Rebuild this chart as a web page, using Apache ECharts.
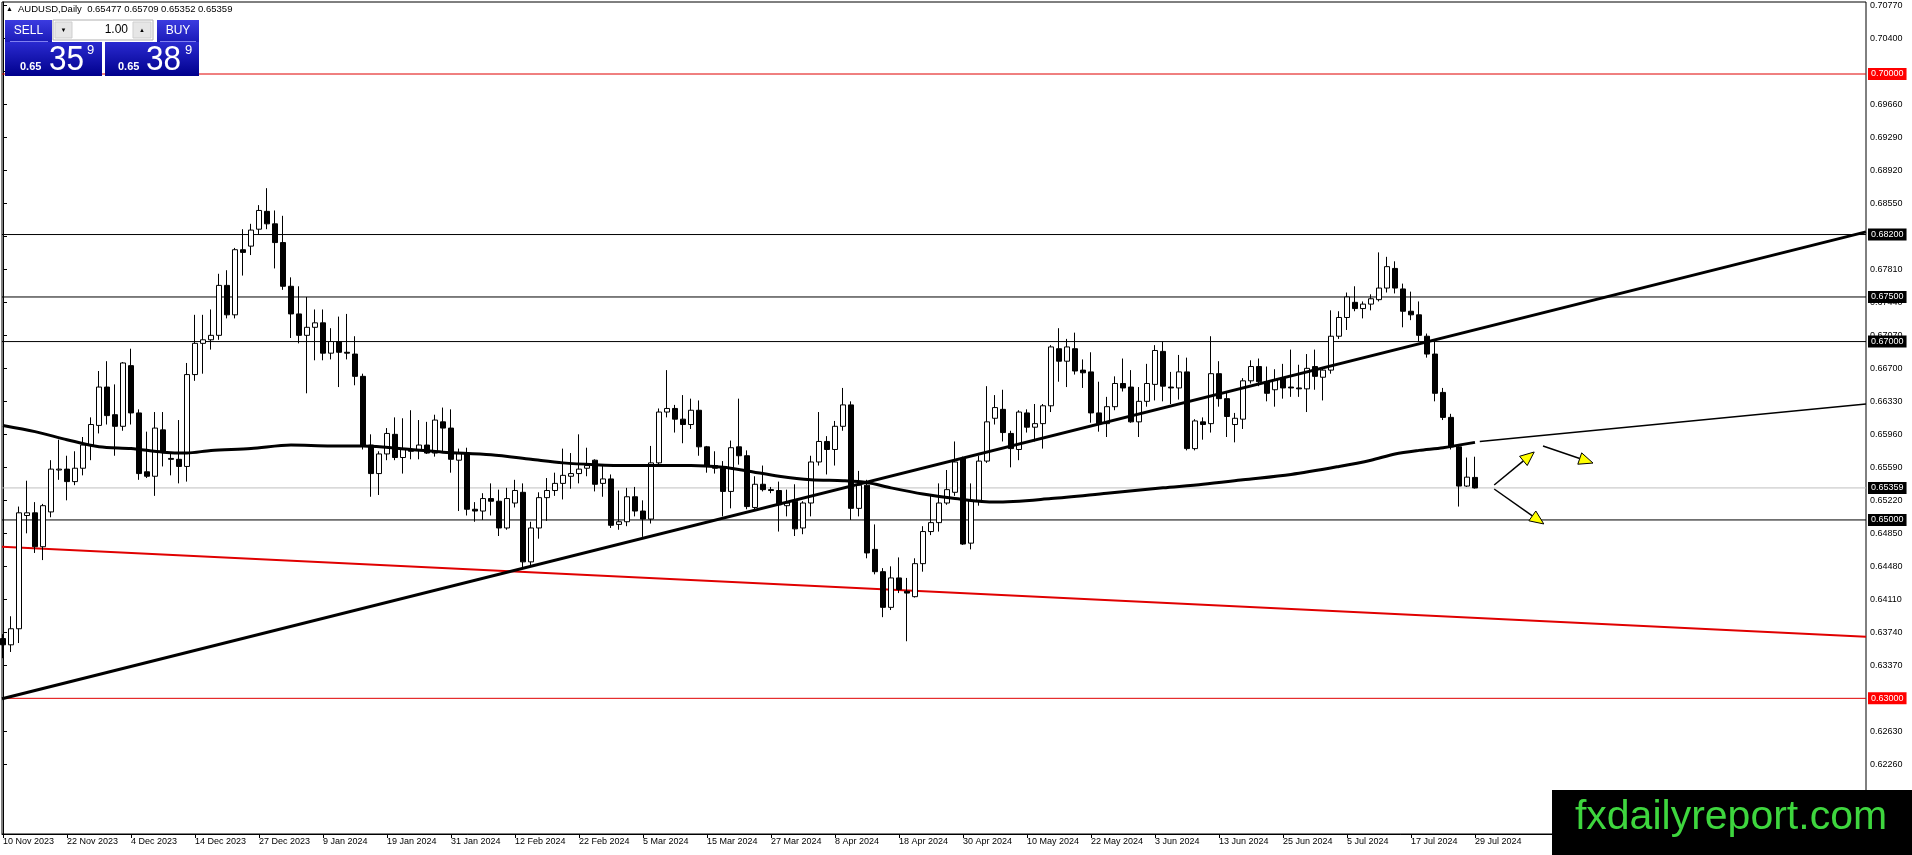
<!DOCTYPE html>
<html><head><meta charset="utf-8">
<script src="https://cdn.jsdelivr.net/npm/echarts@6/dist/echarts.min.js"></script>
<style>html,body{margin:0;padding:0;background:#fff;}#c{width:1912px;height:855px;}</style>
</head><body><div id="c"></div>
<script>
// ---- x-axis date labels (every 8 bars) ----
const dateLabels = ['10 Nov 2023','22 Nov 2023','4 Dec 2023','14 Dec 2023','27 Dec 2023','9 Jan 2024','19 Jan 2024','31 Jan 2024','12 Feb 2024','22 Feb 2024','5 Mar 2024','15 Mar 2024','27 Mar 2024','8 Apr 2024','18 Apr 2024','30 Apr 2024','10 May 2024','22 May 2024','3 Jun 2024','13 Jun 2024','25 Jun 2024','5 Jul 2024','17 Jul 2024','29 Jul 2024'];
const labelBars = [0,8,16,24,32,40,48,56,64,72,80,88,96,104,112,120,128,136,144,152,160,168,176,184];

// ---- price axis tick labels ----
const priceTicks = [0.70770,0.70400,0.70030,0.69660,0.69290,0.68920,0.68550,0.68180,0.67810,0.67440,0.67070,0.66700,0.66330,0.65960,0.65590,0.65220,0.64850,0.64480,0.64110,0.63740,0.63370,0.63000,0.62630,0.62260];

// ---- daily candles AUDUSD ----
const opens = [
.6367,.6360,.6378,.6505,.6508,.6470,.6509,.6556,.6557,.6543,
.6558,.6584,.6606,.6649,.6618,.6605,.6673,.6620,.6554,.6549,
.6601,.6569,.6568,.6560,.6663,.6698,.6702,.6707,.6763,.6730,
.6803,.6807,.6826,.6846,.6832,.6811,.6762,.6731,.6707,.6716,
.6721,.6687,.6700,.6688,.6686,.6661,.6584,.6552,.6574,.6596,
.6570,.6579,.6578,.6584,.6575,.6610,.6603,.6567,.6575,.6512,
.6510,.6524,.6521,.6491,.6519,.6531,.6453,.6491,.6525,.6533,
.6541,.6549,.6552,.6558,.6567,.6541,.6546,.6495,.6498,.6526,
.6510,.6501,.6564,.6621,.6625,.6613,.6607,.6623,.6582,.6561,
.6558,.6532,.6582,.6572,.6514,.6540,.6534,.6533,.6516,.6521,
.6491,.6519,.6565,.6588,.6579,.6605,.6629,.6513,.6539,.6467,
.6442,.6402,.6435,.6420,.6414,.6451,.6487,.6497,.6519,.6531,
.6569,.6474,.6522,.6566,.6614,.6624,.6597,.6579,.6620,.6604,
.6608,.6628,.6692,.6678,.6692,.6668,.6666,.6620,.6608,.6627,
.6653,.6649,.6610,.6633,.6652,.6689,.6649,.6648,.6666,.6580,
.6610,.6608,.6664,.6636,.6607,.6613,.6656,.6672,.6655,.6646,
.6659,.6649,.6648,.6647,.6672,.6660,.6668,.6706,.6727,.6744,
.6737,.6742,.6747,.6760,.6782,.6759,.6734,.6730,.6706,.6686,
.6643,.6615,.6582,.6538,.65477];
const closes = [
.6360,.6378,.6508,.6508,.6470,.6516,.6557,.6557,.6543,.6558,
.6584,.6607,.6649,.6617,.6605,.6676,.6620,.6552,.6549,.6603,
.6577,.6568,.6560,.6663,.6698,.6702,.6707,.6763,.6730,.6803,
.6800,.6825,.6847,.6832,.6811,.6762,.6731,.6707,.6716,.6721,
.6687,.6700,.6688,.6687,.6661,.6583,.6552,.6574,.6597,.6570,
.6579,.6577,.6584,.6575,.6612,.6603,.6568,.6575,.6512,.6510,
.6524,.6521,.6491,.6524,.6533,.6453,.6491,.6525,.6533,.6541,
.6550,.6552,.6557,.6561,.6540,.6546,.6494,.6498,.6526,.6510,
.6501,.6564,.6621,.6625,.6613,.6607,.6623,.6582,.6560,.6558,
.6532,.6581,.6572,.6515,.6540,.6534,.6533,.6517,.6519,.6490,
.6519,.6565,.6588,.6579,.6605,.6629,.6513,.6539,.6463,.6442,
.6402,.6435,.6422,.6418,.6451,.6487,.6497,.6519,.6534,.6565,
.6473,.6522,.6566,.6610,.6626,.6598,.6580,.6621,.6604,.6608,
.6628,.6694,.6678,.6694,.6667,.6665,.6620,.6608,.6627,.6653,
.6648,.6610,.6633,.6653,.6690,.6650,.6648,.6666,.6580,.6611,
.6607,.6664,.6636,.6616,.6614,.6656,.6672,.6655,.6642,.6657,
.6648,.6648,.6647,.6670,.6661,.6668,.6706,.6727,.6750,.6737,
.6742,.6748,.6760,.6784,.6760,.6734,.6730,.6707,.6686,.6642,
.6615,.6582,.6538,.6548,.65359];
const lows = [
.6345,.6352,.6362,.6485,.6463,.6455,.6503,.6545,.6522,.6539,
.6550,.6567,.6597,.6607,.6572,.6600,.6607,.6545,.6547,.6527,
.6560,.6550,.6541,.6543,.6656,.6664,.6691,.6702,.6726,.6726,
.6774,.6797,.6820,.6826,.6782,.6758,.6704,.6698,.6642,.6679,
.6679,.6680,.6649,.6680,.6651,.6579,.6526,.6528,.6567,.6567,
.6552,.6568,.6568,.6574,.6571,.6575,.6553,.6510,.6505,.6498,
.6500,.6505,.6482,.6489,.6514,.6446,.6448,.6479,.6499,.6527,
.6523,.6535,.6541,.6549,.6532,.6526,.6491,.6489,.6493,.6504,
.6481,.6496,.6562,.6615,.6598,.6586,.6602,.6572,.6553,.6552,
.6504,.6513,.6562,.6512,.6511,.6532,.6530,.6487,.6504,.6482,
.6484,.6504,.6561,.6551,.6561,.6600,.6500,.6504,.6457,.6439,
.6391,.6399,.6418,.6364,.6413,.6442,.6483,.6487,.6517,.6527,
.6472,.6467,.6516,.6564,.6607,.6588,.6559,.6567,.6598,.6588,
.6580,.6621,.6655,.6649,.6663,.6648,.6609,.6599,.6593,.6623,
.6644,.6609,.6593,.6627,.6634,.6633,.6630,.6635,.6578,.6578,
.6590,.6598,.6627,.6593,.6587,.6602,.6653,.6650,.6633,.6627,
.6636,.6638,.6638,.6621,.6646,.6634,.6664,.6703,.6713,.6734,
.6726,.6735,.6745,.6755,.6754,.6716,.6724,.6700,.6682,.6633,
.6612,.6579,.6515,.6537,.65352];
const highs = [
.6372,.6392,.6515,.6544,.6520,.6518,.6567,.6590,.6572,.6577,
.6593,.6615,.6667,.6678,.6652,.6677,.6692,.6624,.6599,.6621,
.6621,.6575,.6612,.6676,.6730,.6730,.6736,.6776,.6780,.6805,
.6826,.6832,.6853,.6872,.6847,.6841,.6772,.6762,.6750,.6736,
.6736,.6715,.6728,.6731,.6706,.6664,.6596,.6577,.6603,.6615,
.6614,.6623,.6612,.6610,.6618,.6626,.6624,.6580,.6581,.6520,
.6530,.6541,.6534,.6536,.6545,.6541,.6498,.6531,.6547,.6553,
.6580,.6575,.6596,.6581,.6568,.6562,.6551,.6533,.6536,.6537,
.6522,.6583,.6625,.6668,.6629,.6640,.6636,.6634,.6583,.6577,
.6566,.6589,.6636,.6578,.6549,.6561,.6537,.6543,.6534,.6540,
.6521,.6572,.6621,.6594,.6611,.6648,.6633,.6555,.6545,.6495,
.6446,.6448,.6458,.6435,.6457,.6493,.6527,.6541,.6556,.6588,
.6571,.6541,.6572,.6650,.6640,.6646,.6600,.6623,.6624,.6630,
.6630,.6696,.6715,.6703,.6710,.6680,.6688,.6655,.6638,.6661,
.6681,.6668,.6649,.6675,.6696,.6700,.6666,.6685,.6682,.6613,
.6615,.6706,.6678,.6644,.6620,.6659,.6679,.6681,.6672,.6669,
.6675,.6691,.6674,.6686,.6691,.6671,.6735,.6734,.6755,.6762,
.6745,.6753,.6800,.6795,.6790,.6765,.6756,.6745,.6709,.6700,
.6648,.6619,.6584,.6570,.65709];

// ---- moving average readings [bar, price] ----
const maPoints = [[0,0.6606],[4,0.6599],[8,0.6590],[12,0.6582],[16,0.6580],[20,0.6576],[23,0.6575],[26,0.6578],[31,0.6580],[36,0.6584],[41,0.6583],[45,0.6583],[51,0.6579],[55,0.6576],[61,0.6573],[66,0.6568],[70,0.6564],[74,0.6562],[78,0.6561],[82,0.6561],[86,0.6561],[90,0.6559],[93,0.6555],[97,0.6549],[101,0.6545],[105,0.6544],[108,0.6542],[111,0.6536],[115,0.6529],[119,0.6524],[124,0.6520],[131,0.6524],[138,0.6530],[145,0.6536],[150,0.6540],[155,0.6545],[161,0.6551],[167,0.6560],[171,0.6567],[174,0.6574],[177,0.6578],[180,0.6581],[184,0.6587]];

// ---- drawn objects ----
const blackLevels = [0.68200, 0.67500, 0.67000, 0.65000];
const redLevels = [0.70000, 0.63000];
const lastPrice = 0.65359;
const trendBlack = [[-0.125,0.62996],[232.875,0.6823]];
const trendRed = [[-0.125,0.6470],[232.875,0.6369]];
const trendThin = [[184.6,0.6588],[232.875,0.6630]];
const arrowSegs = [
  [[186.4,0.65392],[191.4,0.65762]],
  [[192.5,0.65829],[198.75,0.65638]],
  [[186.4,0.65347],[192.6,0.64955]]
];
const X_MIN = -0.125, X_MAX = 232.875;

const FONT = '"Liberation Sans", Arial, sans-serif';
const chart = echarts.init(document.getElementById('c'));

const candleData = opens.map((o,i)=>[i,o,closes[i],lows[i],highs[i]]);

function levelSeries(v, lineColor, boxColor, z){
  return {type:'line', data:[[X_MIN, v],[X_MAX, v]], showSymbol:false, silent:true, clip:false, z:z,
    lineStyle:{color:lineColor, width:1},
    endLabel:{show:true, distance:2, formatter:()=>v.toFixed(5), color:'#fff', backgroundColor:boxColor,
      padding:[2,3,1,3], fontSize:9, fontFamily:FONT}};
}

const series = [];
series.push(levelSeries(lastPrice,'#c0c0c0','#000',1));
blackLevels.forEach(v=>series.push(levelSeries(v,'#000','#000',1)));
redLevels.forEach(v=>series.push(levelSeries(v,'#e00000','#ff0000',1)));
series.push({type:'line', data:trendRed, showSymbol:false, silent:true, z:2, lineStyle:{color:'#e00000', width:2}});
series.push({type:'candlestick', data:candleData, encode:{x:0, y:[1,2,3,4]}, barWidth:5, z:3,
  itemStyle:{color:'#fff', color0:'#000', borderColor:'#000', borderColor0:'#000', borderColorDoji:'#000', borderWidth:1}});
series.push({type:'line', data:maPoints, showSymbol:false, silent:true, smooth:0.3, z:4, lineStyle:{color:'#000', width:3}});
series.push({type:'line', data:trendBlack, showSymbol:false, silent:true, z:4, lineStyle:{color:'#000', width:3}});
series.push({type:'line', data:trendThin, showSymbol:false, silent:true, z:4, lineStyle:{color:'#000', width:1.5}});

chart.setOption({
  animation:false,
  backgroundColor:'#fff',
  grid:{left:2, right:46, top:2, bottom:21, show:true, borderColor:'#000', borderWidth:1, backgroundColor:'transparent'},
  xAxis:{type:'value', min:X_MIN, max:X_MAX,
    axisLine:{show:true, lineStyle:{color:'#000'}},
    axisTick:{show:true, customValues:labelBars, length:4, lineStyle:{color:'#000'}},
    axisLabel:{customValues:labelBars, align:'left', margin:3, fontSize:9, fontFamily:FONT, color:'#000',
      formatter:(v)=>dateLabels[Math.round(v/8)]},
    splitLine:{show:false}},
  yAxis:{type:'value', position:'right', min:0.614789, max:0.708073, scale:true,
    axisLine:{show:true, lineStyle:{color:'#000'}},
    axisTick:{show:true, customValues:priceTicks, length:4, lineStyle:{color:'#000'}},
    axisLabel:{customValues:priceTicks, margin:4, fontSize:9, fontFamily:FONT, color:'#000',
      formatter:(v)=>v.toFixed(5)},
    splitLine:{show:false}},
  series:series
});

// ---- annotations / panel ----
const G = echarts.graphic;
const els = [];
arrowSegs.forEach(seg=>{
  const a = chart.convertToPixel({xAxisIndex:0, yAxisIndex:0}, seg[0]);
  const b = chart.convertToPixel({xAxisIndex:0, yAxisIndex:0}, seg[1]);
  const dx=b[0]-a[0], dy=b[1]-a[1], L=Math.hypot(dx,dy);
  const ux=dx/L, uy=dy/L, nx=-uy, ny=ux, HL=14, HW=6;
  const bx=b[0]-ux*HL, by=b[1]-uy*HL;
  els.push({type:'line', z:50, shape:{x1:a[0],y1:a[1],x2:bx,y2:by}, style:{stroke:'#000', lineWidth:1.5}});
  els.push({type:'polygon', z:51, shape:{points:[[b[0],b[1]],[bx+nx*HW,by+ny*HW],[bx-nx*HW,by-ny*HW]]}, style:{fill:'#ffff00', stroke:'#000', lineWidth:1}});
});
els.push({type:'text', z:60, style:{text:'▲', x:6, y:9, fontSize:7, fill:'#000', verticalAlign:'middle', fontFamily:FONT}});
els.push({type:'text', z:60, style:{text:'AUDUSD,Daily  0.65477 0.65709 0.65352 0.65359', x:18, y:9, fontSize:9.5, fill:'#000', verticalAlign:'middle', fontFamily:FONT}});
const grad1 = ()=>new G.LinearGradient(0,0,0,1,[{offset:0,color:'#3b3be0'},{offset:1,color:'#1a1ab8'}]);
const grad2 = ()=>new G.LinearGradient(0,0,0,1,[{offset:0,color:'#2a2ad0'},{offset:1,color:'#00008c'}]);
els.push({type:'rect', z:60, shape:{x:5,y:20,width:47,height:22}, style:{fill:grad1()}});
els.push({type:'rect', z:60, shape:{x:157,y:20,width:42,height:22}, style:{fill:grad1()}});
els.push({type:'rect', z:60, shape:{x:5,y:42,width:97,height:34}, style:{fill:grad2()}});
els.push({type:'rect', z:60, shape:{x:105,y:42,width:94,height:34}, style:{fill:grad2()}});
els.push({type:'line', z:61, shape:{x1:10,y1:41.5,x2:48,y2:41.5}, style:{stroke:'#8080f0', lineWidth:1}});
els.push({type:'line', z:61, shape:{x1:160,y1:41.5,x2:196,y2:41.5}, style:{stroke:'#8080f0', lineWidth:1}});
els.push({type:'rect', z:60, shape:{x:53,y:20,width:100,height:20}, style:{fill:'#fff', stroke:'#b0b0b0', lineWidth:1}});
els.push({type:'rect', z:61, shape:{x:55,y:22,width:17,height:16}, style:{fill:'#e6e6e6', stroke:'#cfcfcf', lineWidth:1}});
els.push({type:'rect', z:61, shape:{x:133,y:22,width:18,height:16}, style:{fill:'#e6e6e6', stroke:'#cfcfcf', lineWidth:1}});
els.push({type:'text', z:62, style:{text:'▼', x:63.5, y:30, fontSize:6, fill:'#000', align:'center', verticalAlign:'middle', fontFamily:FONT}});
els.push({type:'text', z:62, style:{text:'▲', x:142, y:30, fontSize:6, fill:'#000', align:'center', verticalAlign:'middle', fontFamily:FONT}});
els.push({type:'text', z:62, style:{text:'1.00', x:128, y:30, fontSize:12, fill:'#000', align:'right', verticalAlign:'middle', fontFamily:FONT}});
els.push({type:'text', z:62, style:{text:'SELL', x:28.5, y:31, fontSize:12, fill:'#fff', align:'center', verticalAlign:'middle', fontFamily:FONT}});
els.push({type:'text', z:62, style:{text:'BUY', x:178, y:31, fontSize:12, fill:'#fff', align:'center', verticalAlign:'middle', fontFamily:FONT}});
[[20,49,87,'35'],[118,146,185,'38']].forEach(p=>{
  els.push({type:'text', z:62, style:{text:'0.65', x:p[0], y:67, fontSize:11, fontWeight:'bold', fill:'#fff', verticalAlign:'middle', fontFamily:FONT}});
  els.push({type:'text', z:62, x:p[1], y:60, scaleX:0.9, style:{text:p[3], x:0, y:0, fontSize:35, fill:'#fff', verticalAlign:'middle', fontFamily:FONT}});
  els.push({type:'text', z:62, style:{text:'9', x:p[2], y:50, fontSize:13, fill:'#fff', verticalAlign:'middle', fontFamily:FONT}});
});
els.push({type:'rect', z:70, shape:{x:1552,y:790,width:360,height:65}, style:{fill:'#000'}});
els.push({type:'text', z:71, style:{text:'fxdailyreport.com', x:1731, y:818, fontSize:41, fill:'#3ed63e', align:'center', verticalAlign:'middle', fontFamily:FONT}});

chart.setOption({graphic:{elements:els}});
</script>
</body></html>
